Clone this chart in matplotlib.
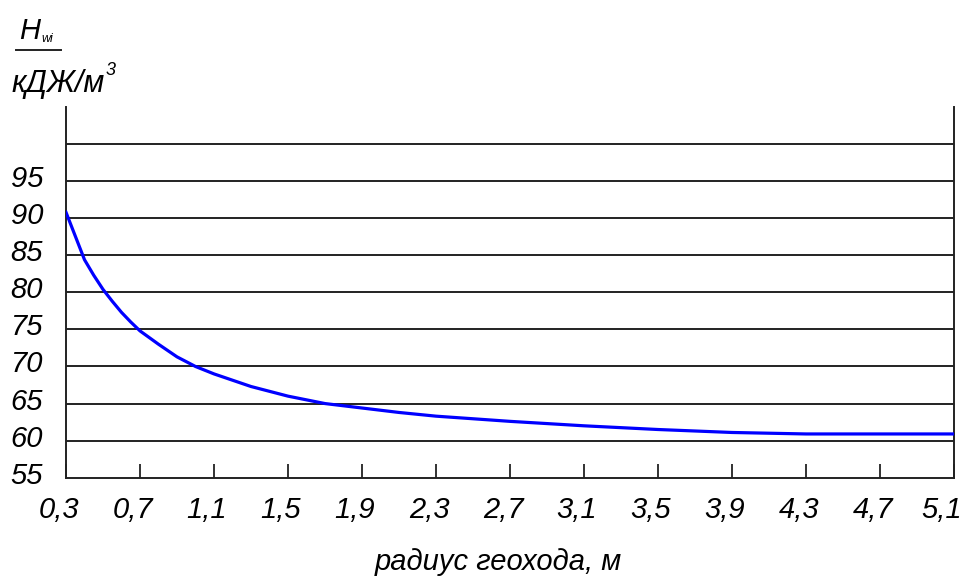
import matplotlib
matplotlib.use('Agg')
import matplotlib.pyplot as plt
from matplotlib import transforms, font_manager
from matplotlib.lines import Line2D

# ---- data ----
radius = [0.3, 0.35, 0.4, 0.45, 0.5, 0.55, 0.6, 0.65, 0.7, 0.8, 0.9, 1.0, 1.1,
          1.3, 1.5, 1.7, 1.9, 2.1, 2.3, 2.7, 3.1, 3.5, 3.9, 4.3, 4.7, 5.1]
energy = [90.8, 87.6, 84.4, 82.3, 80.4, 78.8, 77.3, 76.0, 74.8, 73.0, 71.3, 70.0,
          69.0, 67.3, 66.0, 65.0, 64.4, 63.8, 63.3, 62.6, 62.0, 61.5, 61.1, 60.9,
          60.9, 60.9]
x_ticks = [0.3, 0.7, 1.1, 1.5, 1.9, 2.3, 2.7, 3.1, 3.5, 3.9, 4.3, 4.7, 5.1]
x_tick_labels = ['0,3', '0,7', '1,1', '1,5', '1,9', '2,3', '2,7', '3,1', '3,5',
                 '3,9', '4,3', '4,7', '5,1']
y_ticks = [55, 60, 65, 70, 75, 80, 85, 90, 95]
y_tick_labels = ['55', '60', '65', '70', '75', '80', '85', '90', '95']
grid_levels = [60, 65, 70, 75, 80, 85, 90, 95, 100]
x_title = 'радиус геохода, м'
y_title_top = 'H'
y_title_sub = 'wi'
y_title_bottom = 'кДЖ/м'
y_title_sup = '3'


def pick_font(names):
    for n in names:
        try:
            font_manager.findfont(n, fallback_to_default=False)
            return n
        except Exception:
            pass
    return 'DejaVu Sans'


main_font = pick_font(['Liberation Sans Narrow', 'Liberation Sans'])
plt.rcParams['font.family'] = [main_font, 'DejaVu Sans']
plt.rcParams['font.style'] = 'italic'

W, H = 966, 577
fig = plt.figure(figsize=(W / 100, H / 100), dpi=100)
x0, x1, ybot, ytop = 66, 954, 477.7, 107
ax = fig.add_axes([x0 / W, 1 - ybot / H, (x1 - x0) / W, (ybot - ytop) / H])
ax.set_xlim(0.3, 5.1)
ax.set_ylim(55, 105)

line_col = '#222222'
for g in grid_levels:
    ax.axhline(g, color=line_col, lw=1.4, zorder=1)

ax.plot(radius, energy, color='#0000ff', lw=2.3, zorder=3)

ax.spines['top'].set_visible(False)
for s in ['left', 'right', 'bottom']:
    ax.spines[s].set_linewidth(1.4)
    ax.spines[s].set_color(line_col)

FS = 21
ax.set_xticks(x_ticks)
ax.set_xticklabels(x_tick_labels, fontsize=FS, fontstyle='italic')
ax.tick_params(axis='x', direction='in', length=10, width=1.3, color=line_col, pad=13)
labels = ax.get_xticklabels()
for i, lab in enumerate(labels):
    dx = -12 if i == len(labels) - 1 else -7
    lab.set_transform(lab.get_transform() +
                      transforms.ScaledTranslation(dx / 100, 0, fig.dpi_scale_trans))

ax.set_yticks([])
ytrans = transforms.offset_copy(
    transforms.blended_transform_factory(ax.transAxes, ax.transData),
    fig=fig, x=-23, y=-6, units='dots')
for v, l in zip(y_ticks, y_tick_labels):
    ax.text(0, v, l, ha='right', va='baseline', fontsize=FS, fontstyle='italic',
            transform=ytrans)

# x title
fig.text(498 / W, 1 - 570 / H, x_title, ha='center', va='baseline', fontsize=FS,
         fontstyle='italic')

# y title (fraction)
fig.text(19 / W, 1 - 39 / H, y_title_top, ha='left', va='baseline', fontsize=21,
         fontstyle='italic')
fig.text(41 / W, 1 - 42 / H, y_title_sub, ha='left', va='baseline', fontsize=9,
         fontstyle='italic')
fig.add_artist(Line2D([16 / W, 61 / W], [1 - 50 / H, 1 - 50 / H], color=line_col,
                      lw=1.4, transform=fig.transFigure))
fig.text(12 / W, 1 - 92 / H, y_title_bottom, ha='left', va='baseline', fontsize=22,
         fontstyle='italic')
fig.text(106 / W, 1 - 75 / H, y_title_sup, ha='left', va='baseline', fontsize=13,
         fontstyle='italic')

fig.savefig('out.png', dpi=100)
